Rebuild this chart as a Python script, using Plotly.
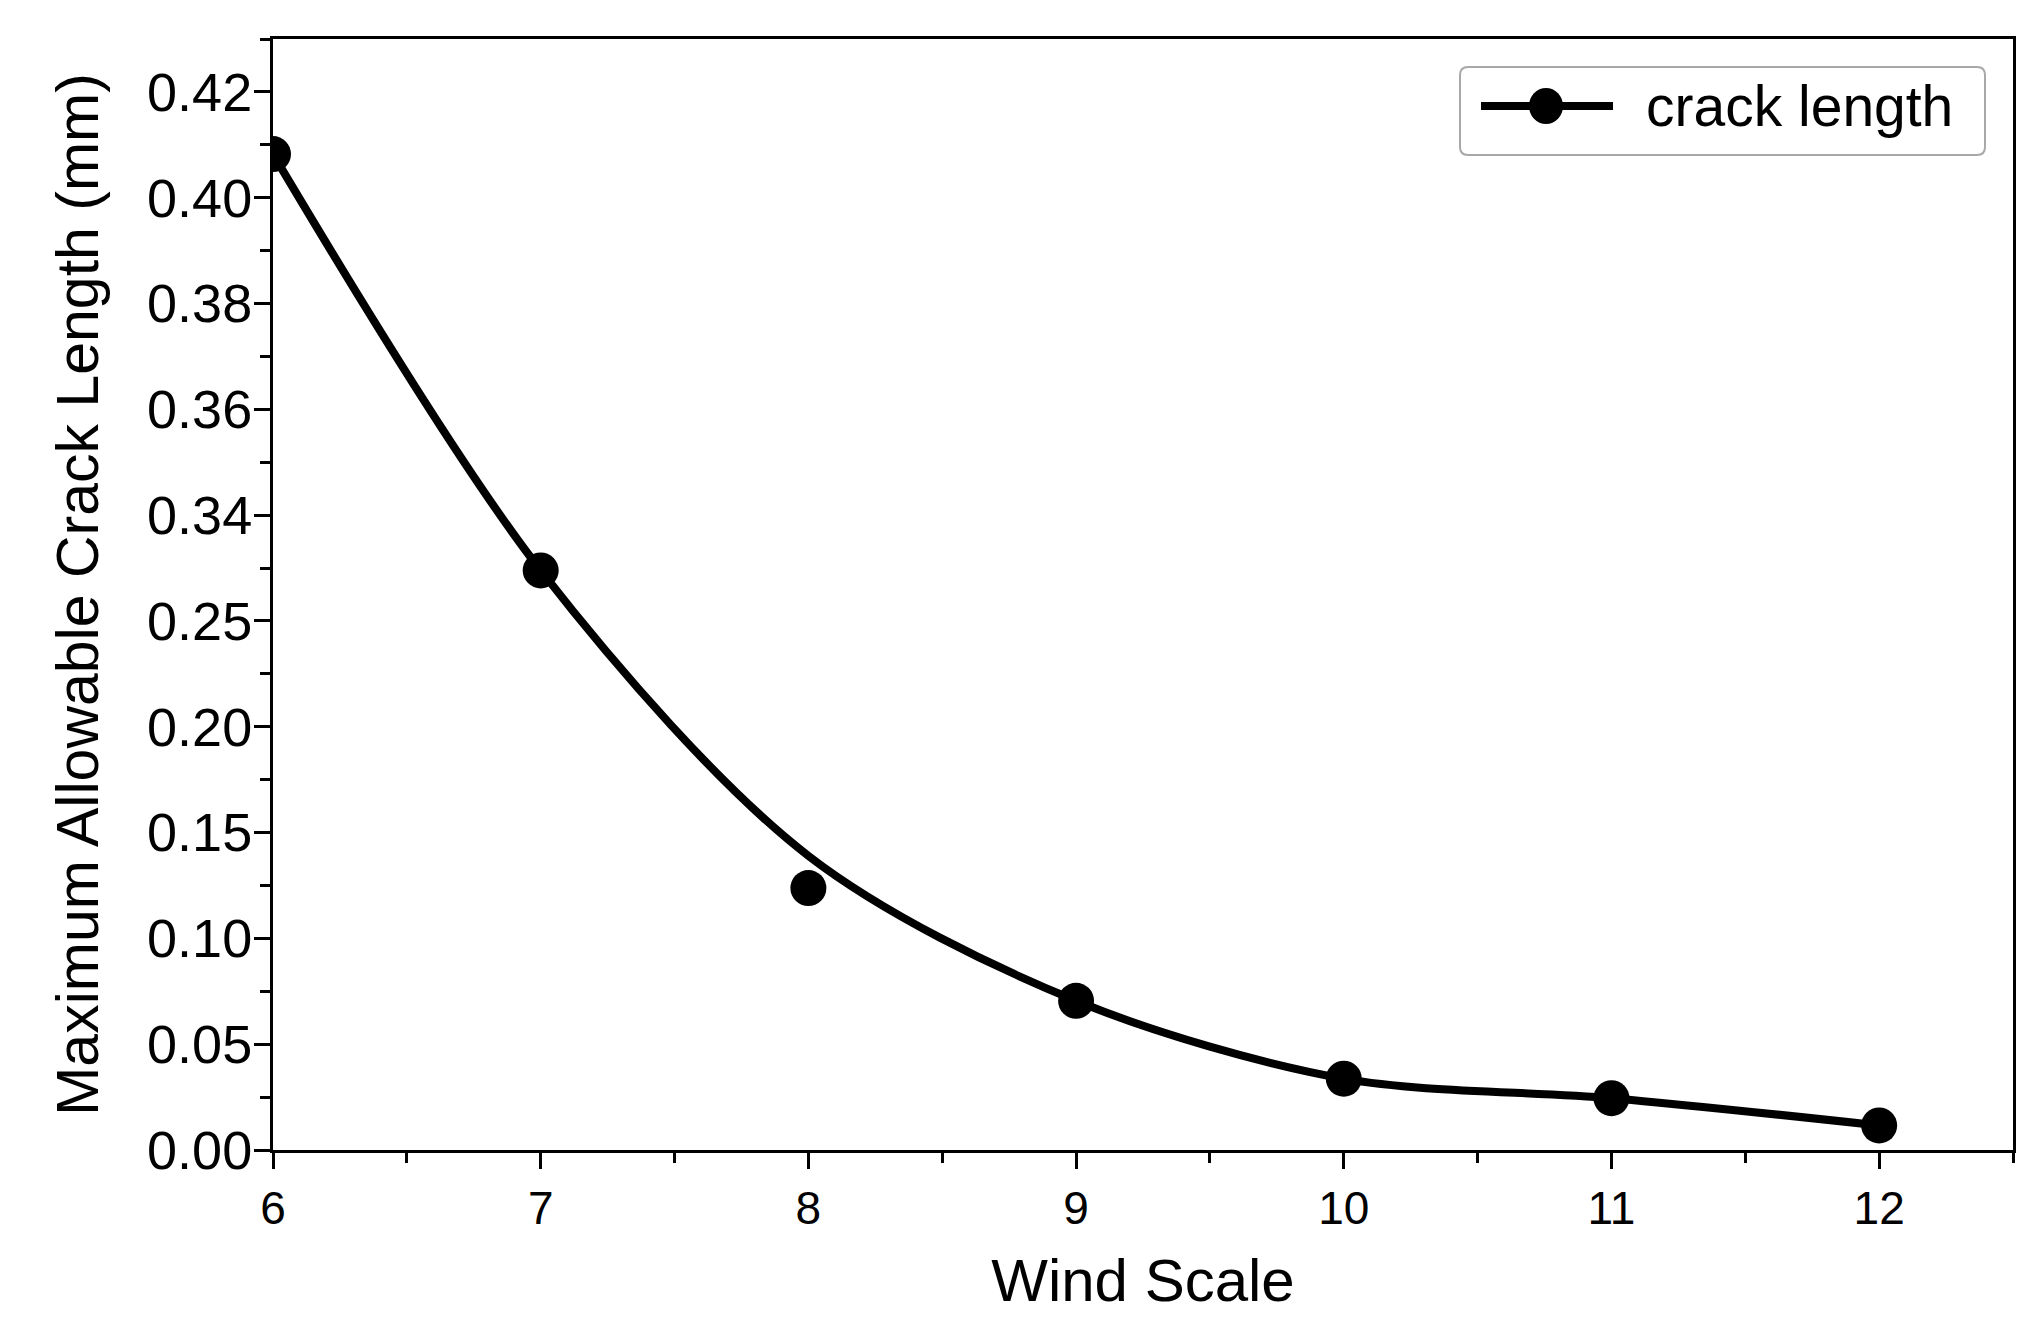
import plotly.graph_objects as go

# ---------------- data ----------------
wind_scale = [6, 7, 8, 9, 10, 11, 12]
crack_length = [0.4706, 0.2739, 0.1238, 0.0705, 0.0337, 0.0245, 0.0116]

# smoothed fit curve drawn through the points (passes above the x=8 point)
fit_x = [6, 7, 8, 9, 10, 11, 12]
fit_y = [0.4706, 0.2739, 0.1390, 0.0705, 0.0337, 0.0245, 0.0116]

y_tick_vals = [0.00, 0.05, 0.10, 0.15, 0.20, 0.25, 0.30, 0.35, 0.40, 0.45, 0.50]
y_tick_text = ["0.00", "0.05", "0.10", "0.15", "0.20", "0.25",
               "0.34", "0.36", "0.38", "0.40", "0.42"]
x_tick_vals = [6, 7, 8, 9, 10, 11, 12]
x_tick_text = ["6", "7", "8", "9", "10", "11", "12"]

series_name = "crack length"
x_title = "Wind Scale"
y_title = "Maximum Allowable Crack Length (mm)"

# ---------------- layout constants ----------------
OFF = 8  # page body margin
W, H = 2032 - 2 * OFF, 1325 - 2 * OFF
L, T = 273 - OFF, 39 - OFF
PR, PB = 2013 - OFF, 1150 - OFF
R, B = W - PR, H - PB
PW = W - L - R
PH = H - T - B
FONT = "Liberation Sans, Arial, Helvetica, sans-serif"


def px_x(px):
    return (px - OFF - L) / PW


def px_y(py):
    return (T + PH - (py - OFF)) / PH


fig = go.Figure()

fig.add_trace(go.Scatter(
    x=fit_x, y=fit_y, mode="lines",
    line=dict(color="black", width=8, shape="spline", smoothing=0.9),
    showlegend=False, hoverinfo="skip",
))
fig.add_trace(go.Scatter(
    x=wind_scale, y=crack_length, mode="markers", name=series_name,
    marker=dict(color="black", size=36, symbol="circle"),
    showlegend=False,
))

# ---------------- manual legend ----------------
bx0, bx1, by0, by1 = 1460, 1985, 67, 155
r = 8
x0, x1 = px_x(bx0), px_x(bx1)
yt, yb = px_y(by0), px_y(by1)
rx, ry = r / PW, r / PH
path = (f"M {x0+rx},{yt} L {x1-rx},{yt} Q {x1},{yt} {x1},{yt-ry} "
        f"L {x1},{yb+ry} Q {x1},{yb} {x1-rx},{yb} L {x0+rx},{yb} "
        f"Q {x0},{yb} {x0},{yb+ry} L {x0},{yt-ry} Q {x0},{yt} {x0+rx},{yt} Z")
shapes = [
    dict(type="path", path=path, xref="paper", yref="paper",
         line=dict(color="#a8a8a8", width=2), fillcolor="white", layer="above"),
    dict(type="line", xref="paper", yref="paper",
         x0=px_x(1481), x1=px_x(1613), y0=px_y(106), y1=px_y(106),
         line=dict(color="black", width=8), layer="above"),
    dict(type="circle", xref="paper", yref="paper",
         x0=px_x(1546 - 17), x1=px_x(1546 + 17),
         y0=px_y(106 - 18), y1=px_y(106 + 18),
         fillcolor="black", line=dict(color="black", width=0), layer="above"),
]
annotations = [
    dict(text=series_name, xref="paper", yref="paper",
         x=px_x(1644), y=px_y(106), xanchor="left", yanchor="middle",
         showarrow=False, font=dict(family=FONT, size=57, color="black")),
]

axis_common = dict(
    showline=True, linecolor="black", linewidth=3, mirror=True,
    ticks="outside", tickcolor="black", tickwidth=3, ticklen=16,
    showgrid=False, zeroline=False, automargin=False,
)

fig.update_layout(
    width=W, height=H,
    margin=dict(l=L, r=R, t=T, b=B),
    paper_bgcolor="white", plot_bgcolor="white",
    font=dict(family=FONT, color="black"),
    showlegend=False,
    shapes=shapes, annotations=annotations,
    xaxis=dict(
        range=[6, 12.5], tickmode="array", tickvals=x_tick_vals, ticktext=x_tick_text,
        tickfont=dict(family=FONT, size=46, color="black"),
        minor=dict(dtick=0.5, tick0=6, ticks="outside", ticklen=10,
                   tickwidth=3, tickcolor="black"),
        title=dict(text=x_title, font=dict(family=FONT, size=60, color="black"),
                   standoff=26),
        **axis_common,
    ),
    yaxis=dict(
        range=[0, 0.525], tickmode="array", tickvals=y_tick_vals, ticktext=y_tick_text,
        tickfont=dict(family=FONT, size=54, color="black"),
        ticklabelstandoff=-9,
        minor=dict(dtick=0.025, tick0=0, ticks="outside", ticklen=10,
                   tickwidth=3, tickcolor="black"),
        title=dict(text=y_title, font=dict(family=FONT, size=59, color="black"),
                   standoff=30),
        **axis_common,
    ),
)

fig.write_html("out.html")
